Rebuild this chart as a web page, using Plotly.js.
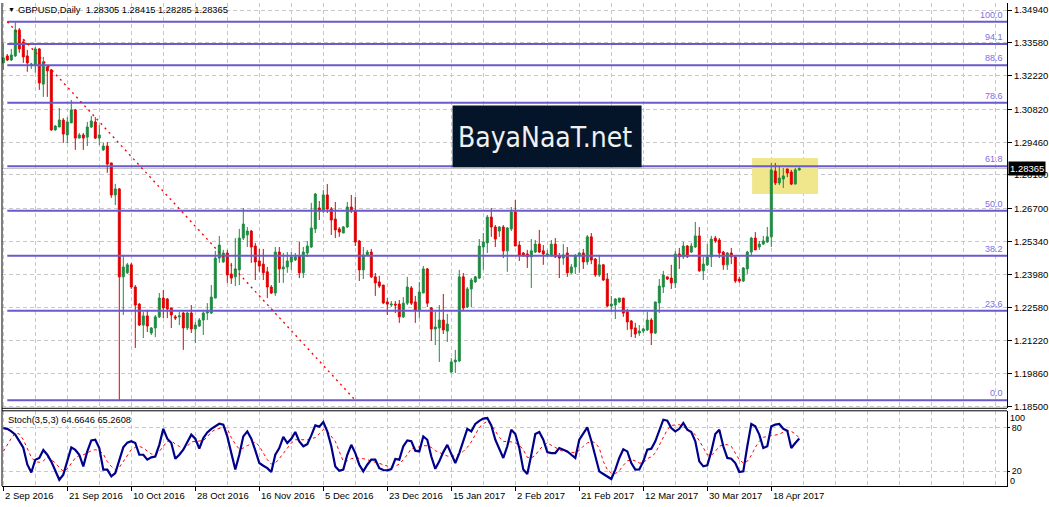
<!DOCTYPE html>
<html>
<head>
<meta charset="utf-8">
<script src="https://cdn.plot.ly/plotly-3.0.1.min.js"></script>
<style>
html,body{margin:0;padding:0;background:#fff;}
#chart{width:1049px;height:507px;}
</style>
</head>
<body>
<div id="chart"></div>
<script>
// ---------- DATA (GBPUSD Daily, bar 0 = 2 Sep 2016) ----------
const symbolTitle = 'GBPUSD,Daily';
const openP = [
1.3275,1.3304,1.3287,1.3304,1.3412,1.3362,1.3304,1.3266,1.3266,1.3333,
1.3187,1.3258,1.3246,1.2997,1.3009,1.3038,1.2976,1.3026,1.3080,1.2963,
1.2976,1.2967,1.3009,1.3030,1.2963,1.2914,1.2930,1.2860,1.2727,1.2752,
1.2387,1.2404,1.2437,1.2345,1.2274,1.2187,1.2225,1.2154,1.2175,1.2221,
1.2299,1.2295,1.2258,1.2221,1.2221,1.2237,1.2175,1.2237,1.2171,1.2183,
1.2208,1.2237,1.2237,1.2299,1.2465,1.2449,1.2486,1.2399,1.2387,1.2416,
1.2548,1.2561,1.2577,1.2515,1.2453,1.2440,1.2408,1.2345,1.2320,1.2490,
1.2420,1.2428,1.2449,1.2457,1.2474,1.2404,1.2486,1.2511,1.2586,1.2673,
1.2660,1.2727,1.2669,1.2627,1.2586,1.2569,1.2594,1.2677,1.2660,1.2536,
1.2416,1.2478,1.2490,1.2387,1.2366,1.2353,1.2283,1.2270,1.2274,1.2274,
1.2221,1.2278,1.2341,1.2283,1.2250,1.2320,1.2420,1.2258,1.2171,1.2175,
1.2208,1.2162,1.1992,1.2034,1.2038,1.2387,1.2262,1.2337,1.2366,1.2382,
1.2511,1.2528,1.2635,1.2594,1.2577,1.2594,1.2495,1.2586,1.2656,1.2519,
1.2486,1.2482,1.2470,1.2490,1.2523,1.2495,1.2478,1.2478,1.2523,1.2474,
1.2465,1.2486,1.2404,1.2428,1.2474,1.2486,1.2449,1.2553,1.2461,1.2395,
1.2437,1.2378,1.2266,1.2270,1.2283,1.2299,1.2242,1.2204,1.2175,1.2154,
1.2162,1.2167,1.2208,1.2154,1.2279,1.2345,1.2387,1.2382,1.2362,1.2482,
1.2470,1.2515,1.2490,1.2511,1.2557,1.2412,1.2437,1.2470,1.2548,1.2540,
1.2490,1.2437,1.2486,1.2470,1.2378,1.2370,1.2420,1.2490,1.2548,1.2511,
1.2523,1.2532,1.2553,1.2826,1.2777,1.2793,1.2835,1.2822,1.2772,1.28305];
const highP = [
1.3358,1.3312,1.3333,1.3444,1.3420,1.3375,1.3329,1.3275,1.3341,1.3337,
1.3300,1.3266,1.3250,1.3017,1.3088,1.3046,1.3050,1.3121,1.3084,1.2984,
1.2984,1.3030,1.3055,1.3050,1.3017,1.2943,1.2947,1.2860,1.2773,1.2756,
1.2478,1.2445,1.2445,1.2353,1.2278,1.2242,1.2250,1.2179,1.2229,1.2320,
1.2333,1.2299,1.2258,1.2229,1.2242,1.2242,1.2242,1.2270,1.2200,1.2216,
1.2242,1.2278,1.2353,1.2495,1.2557,1.2499,1.2499,1.2445,1.2548,1.2586,
1.2673,1.2594,1.2582,1.2528,1.2503,1.2503,1.2428,1.2353,1.2511,1.2511,
1.2486,1.2490,1.2490,1.2486,1.2532,1.2511,1.2536,1.2694,1.2735,1.2702,
1.2748,1.2772,1.2677,1.2698,1.2594,1.2598,1.2698,1.2727,1.2719,1.2540,
1.2511,1.2499,1.2503,1.2403,1.2391,1.2353,1.2299,1.2287,1.2287,1.2291,
1.2303,1.2387,1.2349,1.2308,1.2366,1.2432,1.2424,1.2262,1.2242,1.2270,
1.2316,1.2233,1.2050,1.2084,1.2416,1.2403,1.2345,1.2382,1.2391,1.2544,
1.2569,1.2644,1.2673,1.2602,1.2598,1.2602,1.2594,1.2677,1.2706,1.2536,
1.2490,1.2499,1.2544,1.2540,1.2582,1.2519,1.2499,1.2540,1.2548,1.2486,
1.2523,1.2511,1.2440,1.2482,1.2490,1.2503,1.2561,1.2569,1.2465,1.2478,
1.2440,1.2403,1.2308,1.2299,1.2299,1.2299,1.2254,1.2208,1.2196,1.2187,
1.2175,1.2242,1.2216,1.2283,1.2378,1.2412,1.2387,1.2437,1.2495,1.2507,
1.2532,1.2519,1.2528,1.2615,1.2594,1.2470,1.2523,1.2557,1.2557,1.2548,
1.2495,1.2490,1.2507,1.2474,1.2387,1.2428,1.2495,1.2553,1.2573,1.2536,
1.2557,1.2594,1.2860,1.2860,1.2843,1.2839,1.2835,1.2831,1.2839,1.28415];
const lowP = [
1.3246,1.3283,1.3283,1.3300,1.3317,1.3275,1.3238,1.3250,1.3234,1.3163,
1.3134,1.3134,1.2993,1.2993,1.3009,1.2943,1.2943,1.3026,1.2914,1.2963,
1.2914,1.2930,1.3005,1.2959,1.2934,1.2910,1.2819,1.2715,1.2685,1.1876,
1.2229,1.2399,1.2337,1.2092,1.2183,1.2133,1.2158,1.2146,1.2137,1.2216,
1.2216,1.2216,1.2175,1.2208,1.2187,1.2084,1.2167,1.2154,1.2112,1.2179,
1.2146,1.2208,1.2233,1.2299,1.2445,1.2445,1.2362,1.2358,1.2349,1.2353,
1.2540,1.2511,1.2445,1.2374,1.2408,1.2374,1.2299,1.2316,1.2308,1.2362,
1.2362,1.2404,1.2416,1.2453,1.2382,1.2382,1.2470,1.2507,1.2569,1.2623,
1.2652,1.2652,1.2561,1.2548,1.2553,1.2569,1.2590,1.2652,1.2515,1.2370,
1.2378,1.2474,1.2382,1.2308,1.2341,1.2274,1.2229,1.2262,1.2237,1.2196,
1.2216,1.2270,1.2270,1.2196,1.2216,1.2320,1.2262,1.2121,1.2104,1.2034,
1.2150,1.2117,1.1988,1.1988,1.2034,1.2245,1.2258,1.2262,1.2362,1.2378,
1.2416,1.2486,1.2553,1.2511,1.2553,1.2465,1.2408,1.2577,1.2515,1.2453,
1.2470,1.2424,1.2341,1.2486,1.2486,1.2437,1.2470,1.2470,1.2465,1.2382,
1.2437,1.2387,1.2399,1.2399,1.2404,1.2420,1.2437,1.2440,1.2387,1.2387,
1.2370,1.2262,1.2242,1.2212,1.2278,1.2221,1.2167,1.2137,1.2133,1.2142,
1.2154,1.2162,1.2104,1.2150,1.2237,1.2320,1.2374,1.2337,1.2341,1.2420,
1.2461,1.2466,1.2486,1.2507,1.2408,1.2374,1.2432,1.2428,1.2528,1.2465,
1.2416,1.2416,1.2440,1.2362,1.2362,1.2366,1.2399,1.2478,1.2499,1.2499,
1.2519,1.2528,1.2511,1.2768,1.2768,1.2756,1.2801,1.2768,1.2772,1.28285];
const closeP = [
1.3296,1.3287,1.3308,1.3412,1.3333,1.3300,1.3275,1.3270,1.3333,1.3192,
1.3279,1.3242,1.2997,1.3013,1.3038,1.2980,1.3030,1.3080,1.2963,1.2976,
1.2963,1.3009,1.3034,1.2963,1.2976,1.2930,1.2855,1.2727,1.2752,1.2387,
1.2428,1.2437,1.2345,1.2270,1.2187,1.2225,1.2183,1.2175,1.2221,1.2299,
1.2258,1.2254,1.2229,1.2216,1.2225,1.2175,1.2237,1.2171,1.2187,1.2208,
1.2237,1.2242,1.2303,1.2465,1.2519,1.2486,1.2395,1.2382,1.2420,1.2548,
1.2606,1.2577,1.2511,1.2449,1.2432,1.2404,1.2345,1.2320,1.2490,1.2420,
1.2428,1.2453,1.2470,1.2470,1.2404,1.2490,1.2515,1.2590,1.2731,1.2660,
1.2727,1.2669,1.2623,1.2582,1.2573,1.2594,1.2677,1.2660,1.2532,1.2416,
1.2478,1.2490,1.2387,1.2362,1.2349,1.2279,1.2274,1.2274,1.2270,1.2221,
1.2278,1.2345,1.2278,1.2250,1.2324,1.2420,1.2278,1.2171,1.2179,1.2208,
1.2167,1.2191,1.2034,1.2042,1.2387,1.2258,1.2337,1.2374,1.2387,1.2515,
1.2532,1.2635,1.2594,1.2544,1.2594,1.2495,1.2590,1.2656,1.2515,1.2478,
1.2478,1.2470,1.2495,1.2523,1.2490,1.2482,1.2482,1.2523,1.2470,1.2465,
1.2478,1.2404,1.2428,1.2474,1.2486,1.2449,1.2553,1.2457,1.2395,1.2437,
1.2374,1.2266,1.2274,1.2295,1.2299,1.2237,1.2200,1.2171,1.2150,1.2162,
1.2171,1.2208,1.2154,1.2283,1.2349,1.2395,1.2378,1.2362,1.2482,1.2470,
1.2515,1.2470,1.2515,1.2557,1.2412,1.2440,1.2470,1.2544,1.2536,1.2486,
1.2437,1.2486,1.2470,1.2370,1.2370,1.2424,1.2490,1.2548,1.2499,1.2523,
1.2536,1.2553,1.2831,1.2777,1.2797,1.2806,1.2818,1.2772,1.2831,1.28365];

// Stochastic(3,5,3): main (%K) and signal (%D)
const stochMain = [
79,78,74.5,70,61,52,29,18,35.5,38,
49,42.4,33,19.5,8,15,33,52.5,49,42.4,
26.4,47,62,63,51.6,22,22,12.7,17.3,35.6,
52.5,59,61,58.5,42.4,42.4,35.6,38.8,40,56,
78,64.4,58.5,37,42.4,49.3,60.8,70,64.4,50.7,
65.3,73,78,82,85,83.7,67.6,44.7,22,42.4,
67.6,74.5,64.4,48.4,31,27.3,24,18.6,42.4,51.6,
67,58.5,64.4,73.6,60.8,54,57,69,82.7,81,
87.4,74.5,54,26.4,20.4,22,42.4,56,44.7,28.7,
19.5,28.7,35.6,35.6,24,21.4,21,22.7,36.5,35.6,
54,62,61,48,47,67.6,63,40,23,33.3,
46,56,42.4,31,44.7,60.8,78,74.5,84.6,89,
92,92.8,82.7,63,49.3,38,54,76.8,70.8,51.6,
22,16,42.4,70.8,73.6,63,46,44.7,44.7,51.6,
49.3,47,42.4,38,63,70.8,80,61.7,42.4,19.5,
16,12.7,9,22,38,50,47,31,22,22.3,
33.3,49.3,50.7,60.8,76.8,90.5,89,79,74.5,78,
86,76.8,73.6,60.8,33.3,26.4,27.8,47,70.8,76.8,
54,38,37,31,18.6,19.5,54,84.6,81.4,70,
51.6,54,81.4,83.7,84.6,78,75.4,51.6,58.5,64.6646];
const stochSignal = [
47,56,65,72,71,63,52,39,33,32,
34,39,35.6,31,25,19.5,23,31,38,41.5,
42.4,44.7,48,49.3,48,43.4,33,26.4,22,25,
33,42.4,49.3,52.5,54,51.6,48,43.4,42.4,47,
54,60.8,61.7,57,54,50.7,54,60,60.8,60.8,
61.7,67,73.6,77,79,80,78,66,57,50,
51.6,55,57,60,54,44.7,35.6,29.6,31,37,
44.7,52.5,58.5,63,63,63,63,64.4,66,71,
77,74.5,67.6,60.8,47,33.3,34,37,38,38,
37,35.6,33.3,32,30.5,28.7,26.4,25,26.4,29.6,
35.6,42.4,51,51.6,53.4,54.8,54.8,52.5,48,45.6,
42.4,40.6,40,41,43.4,47,52.5,60,70,80,
85,88.2,83.7,75.4,66.3,60.8,60.8,60,58.5,55.3,
49.3,38.8,38,41.5,49.3,54.8,58.5,55.3,51.6,49.3,
47,46,45.6,45.6,48.4,54,58.5,60.8,58.5,51.6,
33.3,22,17.3,16.5,20.4,27.8,34,35.6,34,31,
31,37,39.7,44.7,55.3,67.6,76.8,82.7,83.7,83.7,
81,77.7,74.5,70,61.7,51.6,42.4,41.5,47,54,
56.2,56.2,54,44.7,35.6,31,33.3,41.5,52.5,60.8,
66.3,67.6,68.5,69,70.4,73.6,75.4,74.5,71,65.2608];

// Axis ticks
const dateTickBars = [0,16,32,48,64,80,96,112,128,144,160,176,192];
const dateTickLabels = ['2 Sep 2016','21 Sep 2016','10 Oct 2016','28 Oct 2016','16 Nov 2016','5 Dec 2016','23 Dec 2016','15 Jan 2017','2 Feb 2017','21 Feb 2017','12 Mar 2017','30 Mar 2017','18 Apr 2017'];
const gridOnlyBars = [8,24,40,56,72,88,104,120,136,152,168,184,200,208,216,224,232,240,248];
const priceTicks = [1.3494,1.3358,1.3222,1.3082,1.2946,1.2810,1.2670,1.2534,1.2398,1.2258,1.2122,1.1986,1.1850];

// Fibonacci retracement (drawn from the Sep high to the low)
const fibLevels = ['0.0','23.6','38.2','50.0','61.8','78.6','88.6','94.1','100.0'];
const fibPrices = [1.1875,1.2246,1.2475,1.2661,1.2846,1.3110,1.3265,1.3353,1.3446];
const fibStartBar = 1, fibEndBar = 88;

// Highlight box around the last candles
const boxBars = [187.2, 203.7];
const boxPrices = [1.2731, 1.2880];

// ---------- CHART ----------
const bars = openP.map((_, i) => i);
const N = bars.length;
const lastClose = closeP[N - 1];
const xRange = [-0.325, 250.925];
const FONT = 'Liberation Sans, Arial, sans-serif';
const GRID = '#c8c8c8';

const traces = [
  {
    type: 'candlestick', x: bars, open: openP, high: highP, low: lowP, close: closeP,
    xaxis: 'x', yaxis: 'y',
    increasing: {line: {color: '#1f8b40', width: 1}, fillcolor: '#1f8b40'},
    decreasing: {line: {color: '#e00000', width: 1}, fillcolor: '#e00000'},
    whiskerwidth: 0, hoverinfo: 'skip'
  },
  {
    type: 'scatter', mode: 'lines', x: bars, y: stochSignal, xaxis: 'x', yaxis: 'y2',
    line: {color: '#ff0000', width: 1, dash: '3px,3px'}, hoverinfo: 'skip'
  },
  {
    type: 'scatter', mode: 'lines', x: bars, y: stochMain, xaxis: 'x', yaxis: 'y2',
    line: {color: '#00008b', width: 2.2}, hoverinfo: 'skip'
  }
];

const shapes = [];
// highlight box
shapes.push({type: 'rect', xref: 'x', yref: 'y', x0: boxBars[0], x1: boxBars[1], y0: boxPrices[0], y1: boxPrices[1],
  fillcolor: '#f0e68c', line: {width: 0}, layer: 'between'});
// current price line
shapes.push({type: 'line', xref: 'paper', yref: 'y', x0: 0, x1: 1, y0: lastClose, y1: lastClose,
  line: {color: '#c0c0c0', width: 1}, layer: 'between'});
// fib levels
fibPrices.forEach(p => shapes.push({type: 'line', xref: 'x', yref: 'y', x0: fibStartBar, x1: xRange[1], y0: p, y1: p,
  line: {color: '#6a5acd', width: 2}, layer: 'above'}));
// fib trend line
shapes.push({type: 'line', xref: 'x', yref: 'y', x0: fibStartBar, x1: fibEndBar, y0: fibPrices[fibPrices.length - 1], y1: fibPrices[0],
  line: {color: '#ff0000', width: 1.4, dash: '2px,4px'}, layer: 'above'});
// logo box
shapes.push({type: 'rect', xref: 'paper', yref: 'paper', x0: 0.4483, x1: 0.6364, y0: 0.660, y1: 0.788,
  fillcolor: '#04152a', line: {width: 0}, layer: 'above'});
// panel borders
shapes.push({type: 'line', xref: 'paper', yref: 'paper', x0: 0, x1: 0, y0: 0, y1: 1, line: {color: '#000', width: 1}});
shapes.push({type: 'line', xref: 'paper', yref: 'y domain', x0: 0, x1: 1, y0: 0, y1: 0, line: {color: '#000', width: 1}});
shapes.push({type: 'line', xref: 'paper', yref: 'y2 domain', x0: 0, x1: 1, y0: 1, y1: 1, line: {color: '#000', width: 1}});

const annotations = [];
annotations.push({xref: 'paper', yref: 'paper', x: 0, y: 1, xanchor: 'left', yanchor: 'top', xshift: 4, yshift: -1,
  text: '▼', showarrow: false, font: {family: FONT, size: 7, color: '#000'}});
annotations.push({xref: 'paper', yref: 'paper', x: 0, y: 1, xanchor: 'left', yanchor: 'top', xshift: 14, yshift: 0,
  text: symbolTitle + '  ' + [openP[N-1], highP[N-1], lowP[N-1], closeP[N-1]].map(v => v.toFixed(5)).join(' '),
  showarrow: false, font: {family: FONT, size: 9.3, color: '#000'}});
annotations.push({xref: 'paper', yref: 'y2 domain', x: 0, y: 1, xanchor: 'left', yanchor: 'top', xshift: 4, yshift: -2,
  text: 'Stoch(3,5,3) ' + stochMain[N-1].toFixed(4) + ' ' + stochSignal[N-1].toFixed(4),
  showarrow: false, font: {family: FONT, size: 9.3, color: '#000'}});
fibPrices.forEach((p, i) => annotations.push({xref: 'paper', yref: 'y', x: 0.998, y: p, xanchor: 'right', yanchor: 'bottom',
  yshift: 0, text: fibLevels[i], showarrow: false, font: {family: FONT, size: 9, color: '#7b6fe0'}}));
dateTickBars.forEach((b, i) => annotations.push({xref: 'x', yref: 'paper', x: b, y: 0, xanchor: 'left', yanchor: 'top',
  yshift: -2, text: dateTickLabels[i], showarrow: false, font: {family: FONT, size: 9.5, color: '#000'}}));
annotations.push({xref: 'paper', yref: 'y', x: 1, y: lastClose, xanchor: 'left', yanchor: 'middle', xshift: 1,
  text: lastClose.toFixed(5), showarrow: false, bgcolor: '#000', borderpad: 1, font: {family: FONT, size: 9.5, color: '#fff'}});
annotations.push({xref: 'paper', yref: 'y2', x: 1, y: 100, xanchor: 'left', yanchor: 'top', xshift: 1, yshift: 2,
  text: '100', showarrow: false, font: {family: FONT, size: 9, color: '#000'}});
annotations.push({xref: 'paper', yref: 'y2', x: 1, y: 0, xanchor: 'left', yanchor: 'bottom', xshift: 1, yshift: -2,
  text: '0', showarrow: false, font: {family: FONT, size: 9, color: '#000'}});
// logo text
annotations.push({xref: 'paper', yref: 'paper', x: 0.5403, y: 0.722, xanchor: 'center', yanchor: 'middle',
  text: 'BayaNaaT.net', showarrow: false, font: {family: 'DejaVu Sans Condensed, Liberation Sans Narrow, Liberation Sans, sans-serif', size: 28, color: '#f0f0f0'}});

const layout = {
  width: 1049, height: 507,
  margin: {l: 2, r: 42, t: 3, b: 21, pad: 0},
  paper_bgcolor: '#ffffff', plot_bgcolor: '#ffffff',
  showlegend: false, dragmode: false, hovermode: false,
  font: {family: FONT, size: 9.5, color: '#000'},
  xaxis: {
    domain: [0, 1], anchor: 'y2', range: xRange, type: 'linear',
    rangeslider: {visible: false},
    tickmode: 'array', tickvals: dateTickBars, showticklabels: false,
    ticks: 'outside', ticklen: 4, tickcolor: '#000', tickwidth: 1,
    showgrid: true, gridcolor: GRID, gridwidth: 1, griddash: '4px,3px',
    minor: {tickmode: 'array', tickvals: gridOnlyBars, ticks: '', showgrid: true, gridcolor: GRID, gridwidth: 1, griddash: '4px,3px'},
    zeroline: false, showline: true, linecolor: '#000', linewidth: 1, fixedrange: true
  },
  yaxis: {
    domain: [0.1609, 1], anchor: 'x', side: 'right', range: [1.18416, 1.35236],
    tickmode: 'array', tickvals: priceTicks, ticktext: priceTicks.map(v => v.toFixed(5)),
    ticks: 'outside', ticklen: 4, tickcolor: '#000',
    showgrid: true, gridcolor: GRID, gridwidth: 1, griddash: '4px,3px',
    zeroline: false, showline: true, linecolor: '#000', linewidth: 1,
    tickfont: {family: FONT, size: 9.5, color: '#000'}, fixedrange: true
  },
  yaxis2: {
    domain: [0, 0.1557], anchor: 'x', side: 'right', range: [-0.55, 102.75],
    tickmode: 'array', tickvals: [80, 20], ticktext: ['80', '20'],
    ticks: 'outside', ticklen: 2, tickcolor: '#000',
    showgrid: true, gridcolor: GRID, gridwidth: 1, griddash: '4px,3px',
    zeroline: false, showline: true, linecolor: '#000', linewidth: 1,
    tickfont: {family: FONT, size: 9, color: '#000'}, fixedrange: true
  },
  shapes: shapes,
  annotations: annotations
};

Plotly.newPlot('chart', traces, layout, {staticPlot: true, displayModeBar: false});
</script>
</body>
</html>
